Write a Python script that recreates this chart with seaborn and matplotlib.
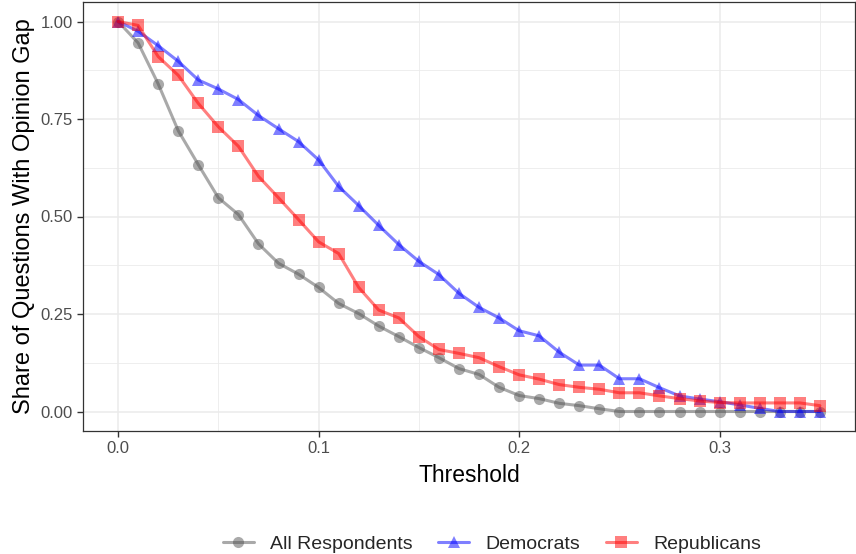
import matplotlib
matplotlib.use("Agg")
import matplotlib.pyplot as plt
import numpy as np
import pandas as pd
import seaborn as sns
from matplotlib.ticker import MultipleLocator

# thresholds 0.00 .. 0.35
threshold = [round(0.01 * i, 2) for i in range(36)]

all_resp = [1.00, 0.945, 0.84, 0.72, 0.633, 0.548, 0.505, 0.43, 0.38, 0.352, 0.318,
            0.277, 0.251, 0.219, 0.192, 0.164, 0.138, 0.11, 0.095, 0.062, 0.041,
            0.033, 0.021, 0.015, 0.007, 0.0, 0.0, 0.0, 0.0, 0.0, 0.0,
            0.0, 0.0, 0.0, 0.0, 0.0]
democrats = [1.00, 0.975, 0.938, 0.898, 0.85, 0.827, 0.80, 0.759, 0.725, 0.692, 0.645,
             0.577, 0.528, 0.477, 0.428, 0.385, 0.351, 0.303, 0.267, 0.24, 0.207,
             0.194, 0.152, 0.119, 0.119, 0.084, 0.084, 0.061, 0.04, 0.032, 0.025,
             0.017, 0.008, 0.0, 0.0, 0.0]
republicans = [1.00, 0.99, 0.91, 0.862, 0.79, 0.73, 0.68, 0.603, 0.548, 0.492, 0.435,
               0.405, 0.318, 0.26, 0.24, 0.192, 0.159, 0.149, 0.138, 0.115, 0.094,
               0.083, 0.069, 0.062, 0.057, 0.048, 0.048, 0.04, 0.033, 0.027, 0.023,
               0.022, 0.022, 0.022, 0.022, 0.015]

groups = ["All Respondents", "Democrats", "Republicans"]
palette = {"All Respondents": "#555555", "Democrats": "#0000ff", "Republicans": "#ff0000"}
markers = {"All Respondents": "o", "Democrats": "^", "Republicans": "s"}

df = pd.DataFrame({
    "Threshold": threshold * 3,
    "share": all_resp + democrats + republicans,
    "group": [g for g in groups for _ in threshold],
})

sns.set_theme(style="whitegrid")
plt.rcParams["font.family"] = ["Liberation Sans", "DejaVu Sans"]

fig = plt.figure(figsize=(8.56, 5.54), dpi=100)
ax = fig.add_axes([83 / 856, 1 - 431 / 554, (855 - 83) / 856, (431 - 2) / 554])

sns.lineplot(data=df, x="Threshold", y="share", hue="group", style="group",
             palette=palette, markers=markers, dashes=False, markersize=8,
             linewidth=2.2, alpha=0.5, markeredgewidth=0, ax=ax)

ax.set_xlim(-0.0175, 0.3675)
ax.set_ylim(-0.05, 1.05)
ax.xaxis.set_minor_locator(MultipleLocator(0.05))
ax.yaxis.set_minor_locator(MultipleLocator(0.125))
ax.set_xticks([0, 0.1, 0.2, 0.3])
ax.set_xticklabels(["0.0", "0.1", "0.2", "0.3"])
ax.set_yticks([0, 0.25, 0.5, 0.75, 1.0])
ax.set_yticklabels(["0.00", "0.25", "0.50", "0.75", "1.00"])

ax.grid(which="major", color="#ebebeb", linewidth=1.1)
ax.grid(which="minor", color="#ebebeb", linewidth=0.6)
ax.set_axisbelow(True)
for s in ax.spines.values():
    s.set_color("#333333")
    s.set_linewidth(0.9)
ax.tick_params(axis="both", which="major", length=4.3, width=1.0, color="#333333",
               labelsize=12, labelcolor="#4d4d4d", pad=3, bottom=True, left=True)
ax.tick_params(which="minor", length=0)

ax.set_xlabel("Threshold", fontsize=16.5, color="black", labelpad=6)
ax.set_ylabel("Share of Questions With Opinion Gap", fontsize=17, color="black", labelpad=4)

handles, labels = ax.get_legend_handles_labels()
ax.legend_.remove()
fig.legend(handles, labels, loc="center", bbox_to_anchor=(492 / 856, 1 - 544 / 554), ncol=3,
           frameon=False, fontsize=14, handlelength=1.6, columnspacing=1.3,
           handletextpad=0.85)

fig.savefig("out.png", dpi=100)
